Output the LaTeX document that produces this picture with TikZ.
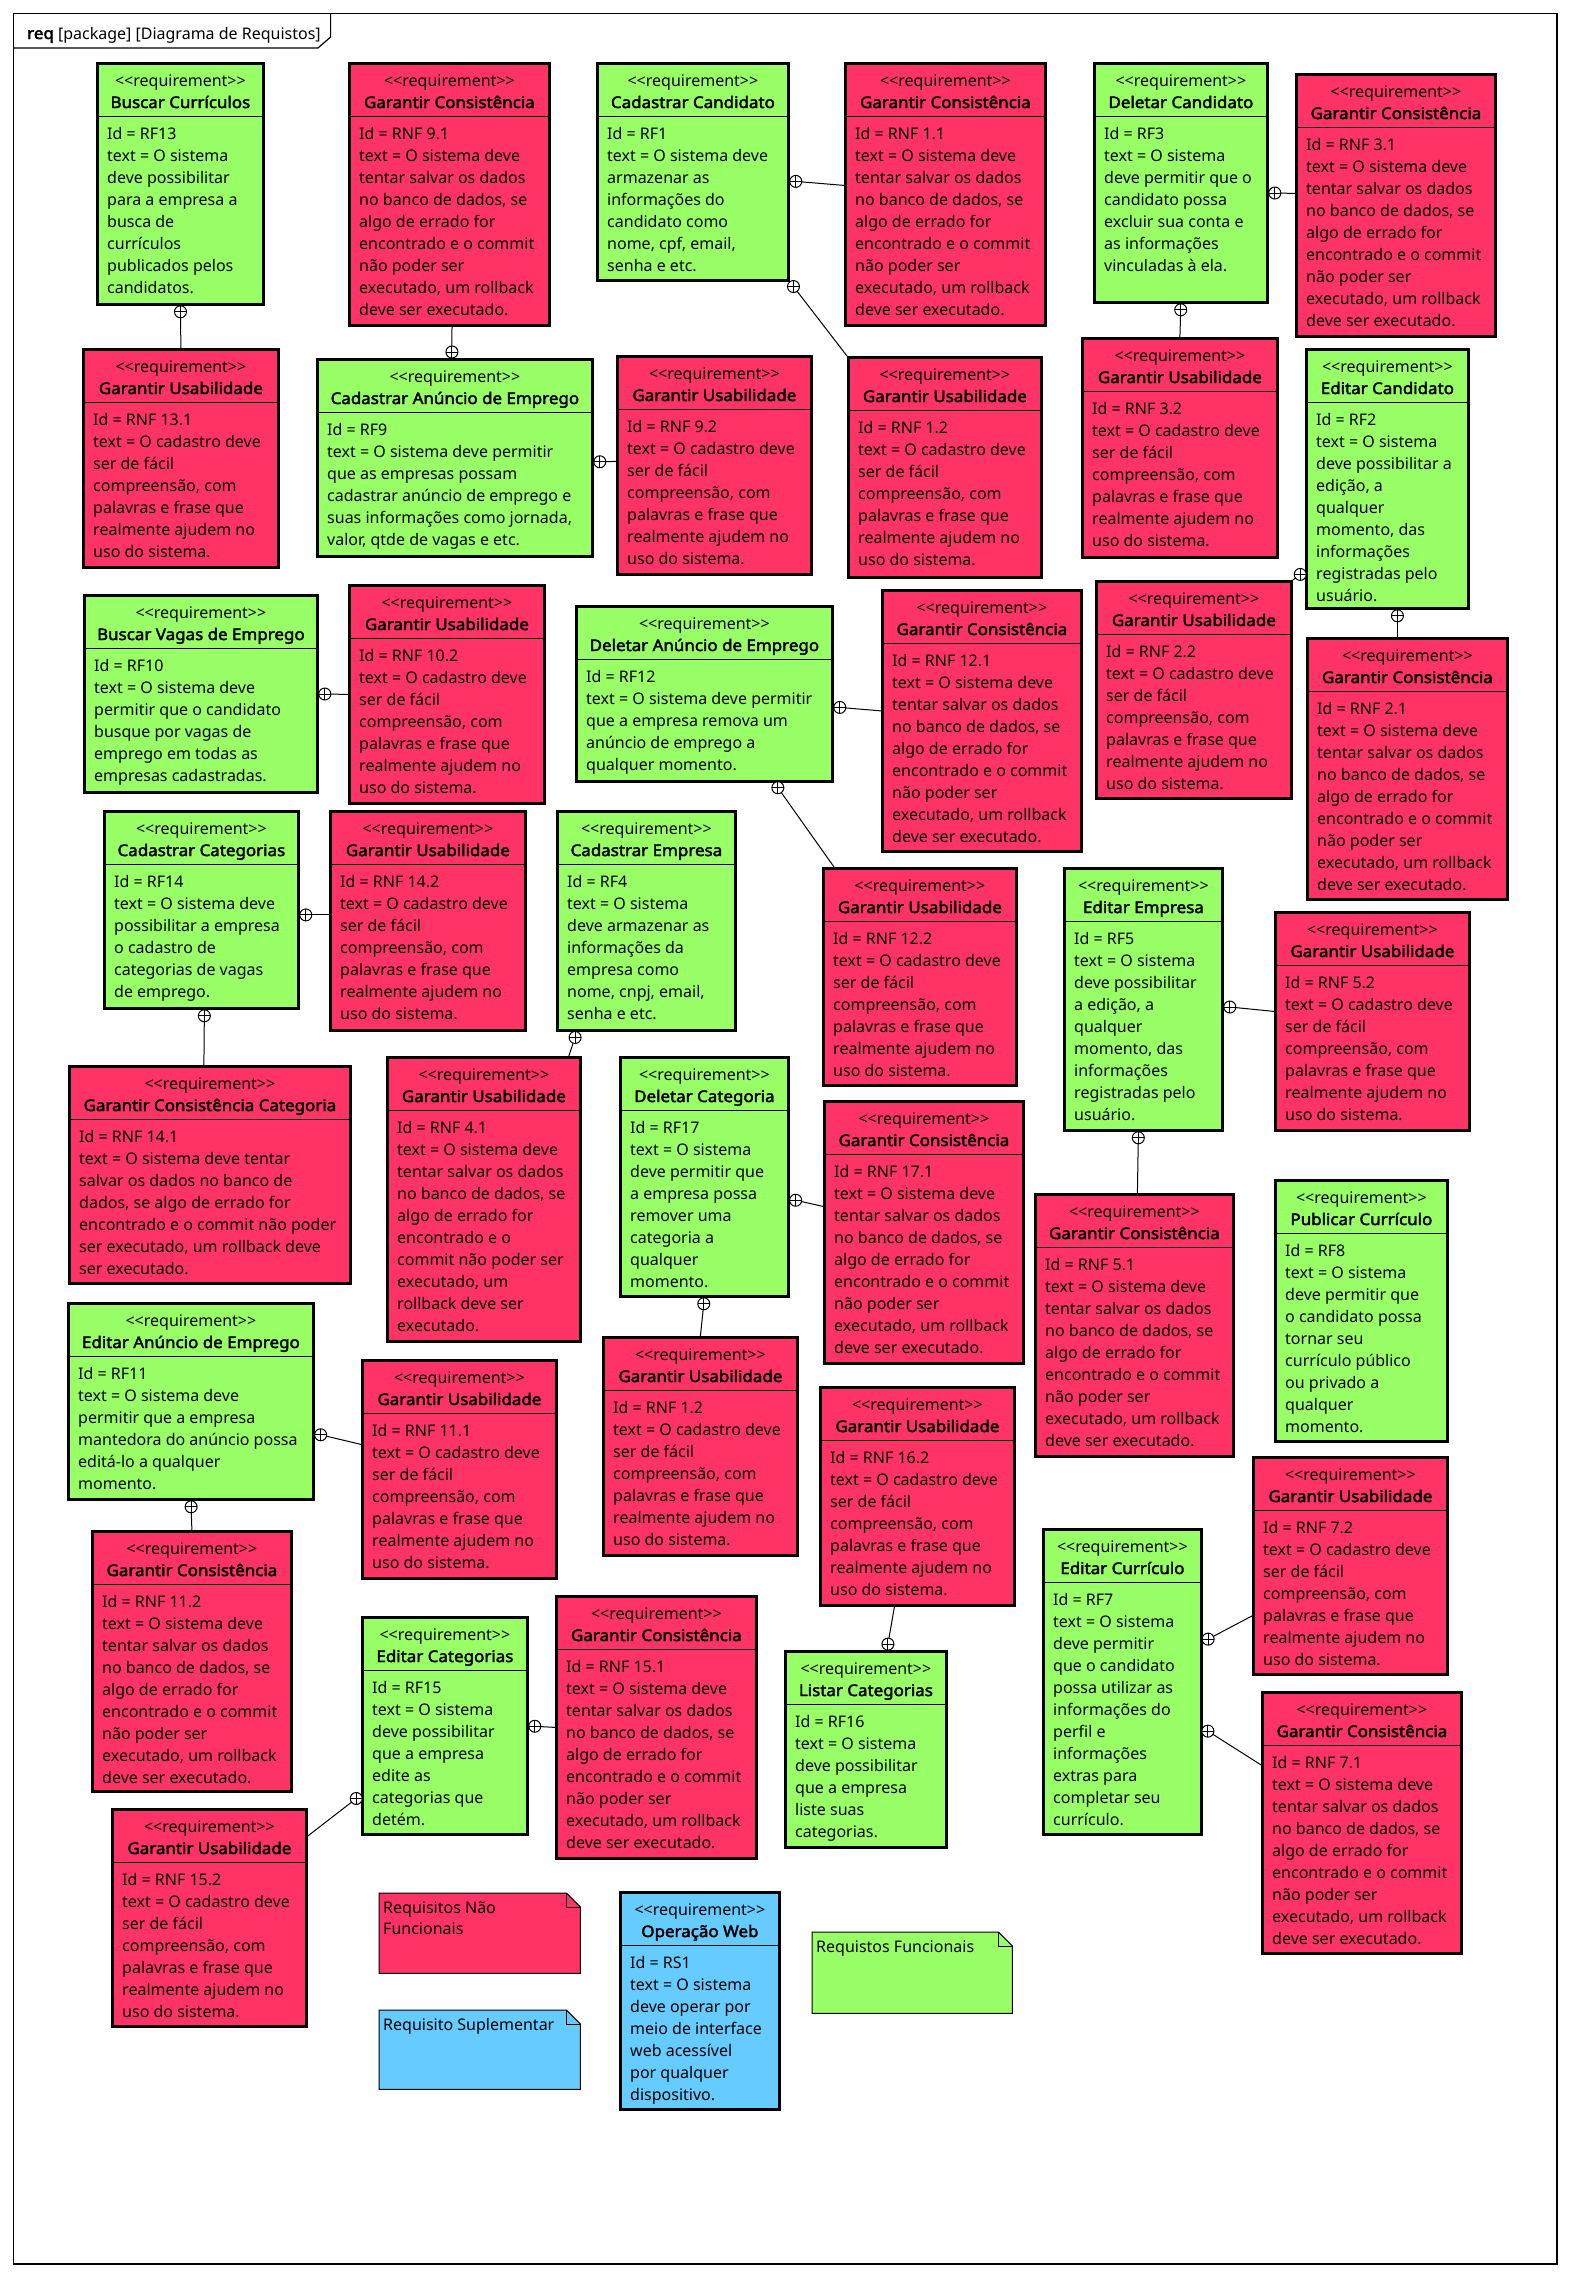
\documentclass[tikz,border=0pt]{standalone}
\usepackage{fontspec}
\setmainfont{Noto Sans}[BoldFont={Noto Sans}, BoldFeatures={FakeBold=2.5, FakeStretch=1.06}]
\usetikzlibrary{calc}

\definecolor{rnf}{HTML}{FF3366}
\definecolor{rf}{HTML}{99FF66}
\definecolor{rs}{HTML}{66CCFF}

\newcommand{\stereo}{<\kern0pt<requirement>\kern0pt>}

\newcommand{\req}[8]{%
  \node[reqbox, fill=#6, minimum width=#4, minimum height=#5] (#1) at (#2,#3) {};
  \node[stereotxt] (#1-s) at ([yshift=-24pt]#1.north) {\stereo};
  \node[titletxt] (#1-t) at ([yshift=-46pt]#1.north) {#7};
  \draw[sepline] ([yshift=-54pt]#1.north west) -- ([yshift=-54pt]#1.north east);
  \foreach \row [count=\i] in {#8}
    \node[bodytxt] (#1-\i) at ([xshift=11pt,yshift=-55pt-22pt*\i]#1.north west) {\row};
}
\newcommand{\usab}[6]{\req{#1}{#2}{#3}{#4}{#5}{rnf}{Garantir Usabilidade}{Id = RNF #6, text = O cadastro deve, ser de fácil, {compreensão, com}, palavras e frase que, realmente ajudem no, uso do sistema.}}
\newcommand{\consist}[6]{\req{#1}{#2}{#3}{#4}{#5}{rnf}{Garantir Consistência}{Id = RNF #6, text = O sistema deve, tentar salvar os dados, {no banco de dados, se}, algo de errado for, encontrado e o commit, não poder ser, {executado, um rollback}, deve ser executado.}}

\newcommand{\umlnote}[7]{%
  \node[notebox, minimum width=#4, minimum height=#5] (#1) at (#2,#3) {};
  \draw[noteline, fill=#6] (#1.north west) -- ([xshift=-14pt]#1.north east) -- ([yshift=-14pt]#1.north east) -- (#1.south east) -- (#1.south west) -- cycle;
  \draw[noteline] ([xshift=-14pt]#1.north east) |- ([yshift=-14pt]#1.north east);
  \foreach \row [count=\i] in {#7}
    \node[bodytxt] (#1-\i) at ([xshift=4pt,yshift=1pt-21pt*\i]#1.north west) {\row};
}

\newcommand{\contain}[2]{%
  \coordinate (ctr) at ($(#1)!6pt!(#2)$);
  \draw[link] (ctr) -- (#2);
  \draw[link, fill=white] (ctr) circle (6pt);
  \draw[link] ([xshift=-6pt]ctr) -- ([xshift=6pt]ctr) ([yshift=-6pt]ctr) -- ([yshift=6pt]ctr);
}

\begin{document}
\begin{tikzpicture}[x=1pt, y=-1pt, font=\fontsize{16}{22}\selectfont,
  reqbox/.style={draw, line width=2.8pt, anchor=north west, inner sep=0pt},
  stereotxt/.style={anchor=base, inner sep=0pt},
  titletxt/.style={anchor=base, inner sep=0pt, font=\fontsize{16}{22}\selectfont\bfseries},
  bodytxt/.style={anchor=base west, inner sep=0pt},
  sepline/.style={line width=1pt},
  link/.style={line width=1pt},
  notebox/.style={anchor=north west, inner sep=0pt},
  noteline/.style={line width=1pt}]
\useasboundingbox (0,0) rectangle (1570,2278);

\draw[line width=1.2pt] (13.5,13.7) rectangle (1557,2264);
\draw[line width=1.2pt] (13.5,48) -- (318,48) -- (330.6,37) -- (330.6,13.7);
\node[anchor=base west, inner sep=0pt] (pkg) at (27,39) {\textbf{req} [package] [Diagrama de Requistos]};

\req{b1}{96}{62}{166}{241}{rf}{Buscar Currículos}{Id = RF13, text = O sistema, deve possibilitar, para a empresa a, busca de, currículos, publicados pelos, candidatos.}
\usab{u131}{82}{348}{195}{218}{13.1}
\consist{c91}{348}{62}{200}{262}{9.1}
\req{a9}{316}{358}{275}{197}{rf}{Cadastrar Anúncio de Emprego}{Id = RF9, text = O sistema deve permitir, que as empresas possam, cadastrar anúncio de emprego e, {suas informações como jornada,}, {valor, qtde de vagas e etc.}}
\req{rf1}{596}{62}{191}{217}{rf}{Cadastrar Candidato}{Id = RF1, text = O sistema deve, armazenar as, informações do, candidato como, {nome, cpf, email,}, senha e etc.}
\consist{c11}{844}{62}{200}{262}{1.1}
\usab{u92}{616}{355}{194}{218}{9.2}
\usab{u12}{847}{356}{193}{220}{1.2}
\req{rf3}{1093}{62}{173}{239}{rf}{Deletar Candidato}{Id = RF3, text = O sistema, deve permitir que o, candidato possa, excluir sua conta e, as informações, vinculadas à ela.}
\consist{c31}{1295}{73}{199}{262}{3.1}
\usab{u32}{1081}{337}{195}{219}{3.2}
\req{rf2}{1305}{348}{162}{259}{rf}{Editar Candidato}{Id = RF2, text = O sistema, deve possibilitar a, {edição, a}, qualquer, {momento, das}, informações, registradas pelo, usuário.}
\req{b10}{83}{594}{233}{197}{rf}{Buscar Vagas de Emprego}{Id = RF10, text = O sistema deve, permitir que o candidato, busque por vagas de, emprego em todas as, empresas cadastradas.}
\usab{u102}{348}{584}{195}{218}{10.2}
\req{d12}{575}{605}{256}{175}{rf}{Deletar Anúncio de Emprego}{Id = RF12, text = O sistema deve permitir, que a empresa remova um, anúncio de emprego a, qualquer momento.}
\consist{c121}{881}{589}{199}{261}{12.1}
\usab{u22}{1095}{580}{195}{217}{2.2}
\consist{c21}{1306}{637}{200}{261}{2.1}
\req{c14}{103}{810}{194}{197}{rf}{Cadastrar Categorias}{Id = RF14, text = O sistema deve, possibilitar a empresa, o cadastro de, categorias de vagas, de emprego.}
\usab{u142}{329}{810}{195}{219}{14.2}
\req{rf4}{556}{810}{178}{219}{rf}{Cadastrar Empresa}{Id = RF4, text = O sistema, deve armazenar as, informações da, empresa como, {nome, cnpj, email,}, senha e etc.}
\usab{u122}{822}{867}{193}{217}{12.2}
\req{rf5}{1063}{867}{158}{262}{rf}{Editar Empresa}{Id = RF5, text = O sistema, deve possibilitar, {a edição, a}, qualquer, {momento, das}, informações, registradas pelo, usuário.}
\usab{u52}{1274}{911}{194}{218}{5.2}
\req{cc141}{68}{1065}{281}{217}{rnf}{Garantir Consistência Categoria}{Id = RNF 14.1, text = O sistema deve tentar, salvar os dados no banco de, {dados, se algo de errado for}, encontrado e o commit não poder, {ser executado, um rollback deve}, ser executado.}
\req{u41}{386}{1056}{193}{284}{rnf}{Garantir Usabilidade}{Id = RNF 4.1, text = O sistema deve, tentar salvar os dados, {no banco de dados, se}, algo de errado for, encontrado e o, commit não poder ser, {executado, um}, rollback deve ser, executado.}
\req{rf17}{619}{1056}{168}{239}{rf}{Deletar Categoria}{Id = RF17, text = O sistema, deve permitir que, a empresa possa, remover uma, categoria a, qualquer, momento.}
\consist{c171}{823}{1100}{199}{262}{17.1}
\req{rf11}{67}{1302}{245}{196}{rf}{Editar Anúncio de Emprego}{Id = RF11, text = O sistema deve, permitir que a empresa, mantedora do anúncio possa, editá-lo a qualquer, momento.}
\usab{u111}{361}{1359}{194}{218}{11.1}
\consist{c51}{1034}{1193}{198}{262}{5.1}
\req{rf8}{1274}{1179}{172}{261}{rf}{Publicar Currículo}{Id = RF8, text = O sistema, deve permitir que, o candidato possa, tornar seu, currículo público, ou privado a, qualquer, momento.}
\usab{u12b}{602}{1336}{194}{218}{1.2}
\usab{u162}{819}{1386}{194}{218}{16.2}
\consist{c112}{91}{1530}{199}{260}{11.2}
\usab{u72}{1252}{1456}{194}{217}{7.2}
\req{rf7}{1042}{1528}{158}{305}{rf}{Editar Currículo}{Id = RF7, text = O sistema, deve permitir, que o candidato, possa utilizar as, informações do, perfil e, informações, extras para, completar seu, currículo.}
\req{rf15}{361}{1616}{165}{217}{rf}{Editar Categorias}{Id = RF15, text = O sistema, deve possibilitar, que a empresa, edite as, categorias que, detém.}
\consist{c151}{555}{1595}{200}{262}{15.1}
\req{rf16}{784}{1650}{161}{196}{rf}{Listar Categorias}{Id = RF16, text = O sistema, deve possibilitar, que a empresa, liste suas, categorias.}
\consist{c71}{1261}{1691}{199}{261}{7.1}
\usab{u152}{111}{1808}{194}{217}{15.2}
\req{rs1}{619}{1891}{159}{217}{rs}{Operação Web}{Id = RS1, text = O sistema, deve operar por, meio de interface, web acessível, por qualquer, dispositivo.}

\umlnote{nf}{379}{1893}{201}{80}{rnf}{Requisitos Não, Funcionais}
\umlnote{sup}{379}{2010}{201}{79}{rs}{Requisito Suplementar}
\umlnote{fn}{812}{1932}{200}{81}{rf}{Requistos Funcionais}

\contain{b1.south}{u131.north}
\contain{[xshift=-3pt]a9.north}{[xshift=2.6pt]c91.south}
\contain{[yshift=-9pt]rf1.east}{[yshift=9pt]c11.west}
\contain{[yshift=-4pt]a9.east}{[yshift=4pt]u92.west}
\contain{rf1.south east}{u12.north west}
\contain{[yshift=-10pt]rf3.east}{[yshift=12pt]c31.west}
\contain{rf3.south}{u32.north}
\contain{[yshift=39pt]rf2.south west}{u22.north east}
\contain{[xshift=10pt]rf2.south}{[xshift=-10pt]c21.north}
\contain{b10.east}{u102.west}
\contain{[yshift=-13pt]d12.east}{[yshift=10pt]c121.west}
\contain{[xshift=70pt]d12.south}{[xshift=12pt]u122.north west}
\contain{[yshift=-5pt]c14.east}{[yshift=6pt]u142.west}
\contain{[xshift=3pt]c14.south}{[xshift=-6pt]cc141.north}
\contain{[xshift=21pt]rf4.south west}{[xshift=-13pt]u41.north east}
\contain{[yshift=-7pt]rf5.east}{[yshift=10pt]u52.west}
\contain{[xshift=-5pt]rf5.south}{[xshift=3pt]c51.north}
\contain{[yshift=-32pt]rf11.east}{[yshift=25pt]u111.west}
\contain{rf11.south}{c112.north}
\contain{[yshift=-22pt]rf17.east}{[yshift=26pt]c171.west}
\contain{rf17.south}{u12b.north}
\contain{[xshift=21pt]rf16.north}{[xshift=-23pt]u162.south}
\contain{rf15.east}{c151.west}
\contain{[yshift=41pt]rf15.south west}{[yshift=-28pt]u152.north east}
\contain{[yshift=40pt]rf7.east}{[yshift=-50pt]u72.west}
\contain{[yshift=-46pt]rf7.east}{[yshift=58pt]c71.west}
\end{tikzpicture}
\end{document}
